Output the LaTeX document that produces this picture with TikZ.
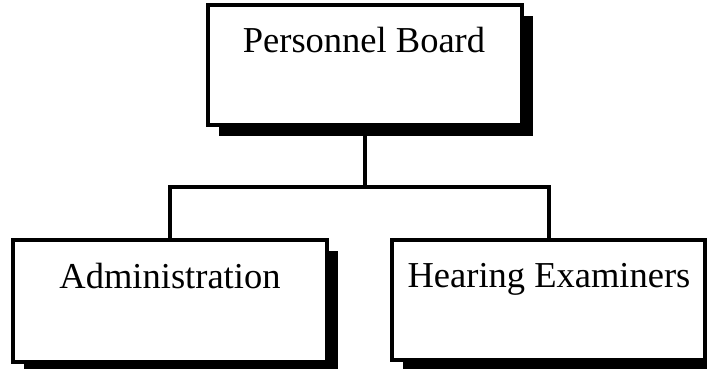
\documentclass[tikz,border=0pt]{standalone}
\usepackage{fontspec}
\setmainfont{Liberation Serif}
\usetikzlibrary{shadows}
\tikzset{
  orgbox/.style={draw=black, fill=white, line width=4pt, rectangle, inner sep=0pt,
    drop shadow={shadow xshift=11pt, shadow yshift=-11pt, fill=black, opacity=1}},
  boxtext/.style={anchor=base, inner sep=0pt, font=\fontsize{36.5}{40}\selectfont},
  conn/.style={line width=4pt, line cap=rect}
}
\begin{document}
\begin{tikzpicture}[x=1pt,y=-1pt]
\useasboundingbox (0,0) rectangle (707,369);
\clip (0,0) rectangle (707,369);
\coordinate (bar) at (0,187);
\node[orgbox, minimum width=314pt, minimum height=120pt] (top) at (365,65) {};
\node[orgbox, minimum width=314pt, minimum height=122pt] (admin) at (170,301) {};
\node[orgbox, minimum width=313pt, minimum height=120pt] (hear) at (548.5,300) {};
\draw[conn] (top.south) -- (top.south |- bar) coordinate (mid);
\draw[conn] (admin.north) |- (mid) -| (hear.north);
\node[boxtext] (ttop) at (364,53) {Personnel Board};
\node[boxtext] (tadmin) at (170,288) {Administration};
\node[boxtext] (thear) at (549,287) {Hearing Examiners};
\end{tikzpicture}
\end{document}
